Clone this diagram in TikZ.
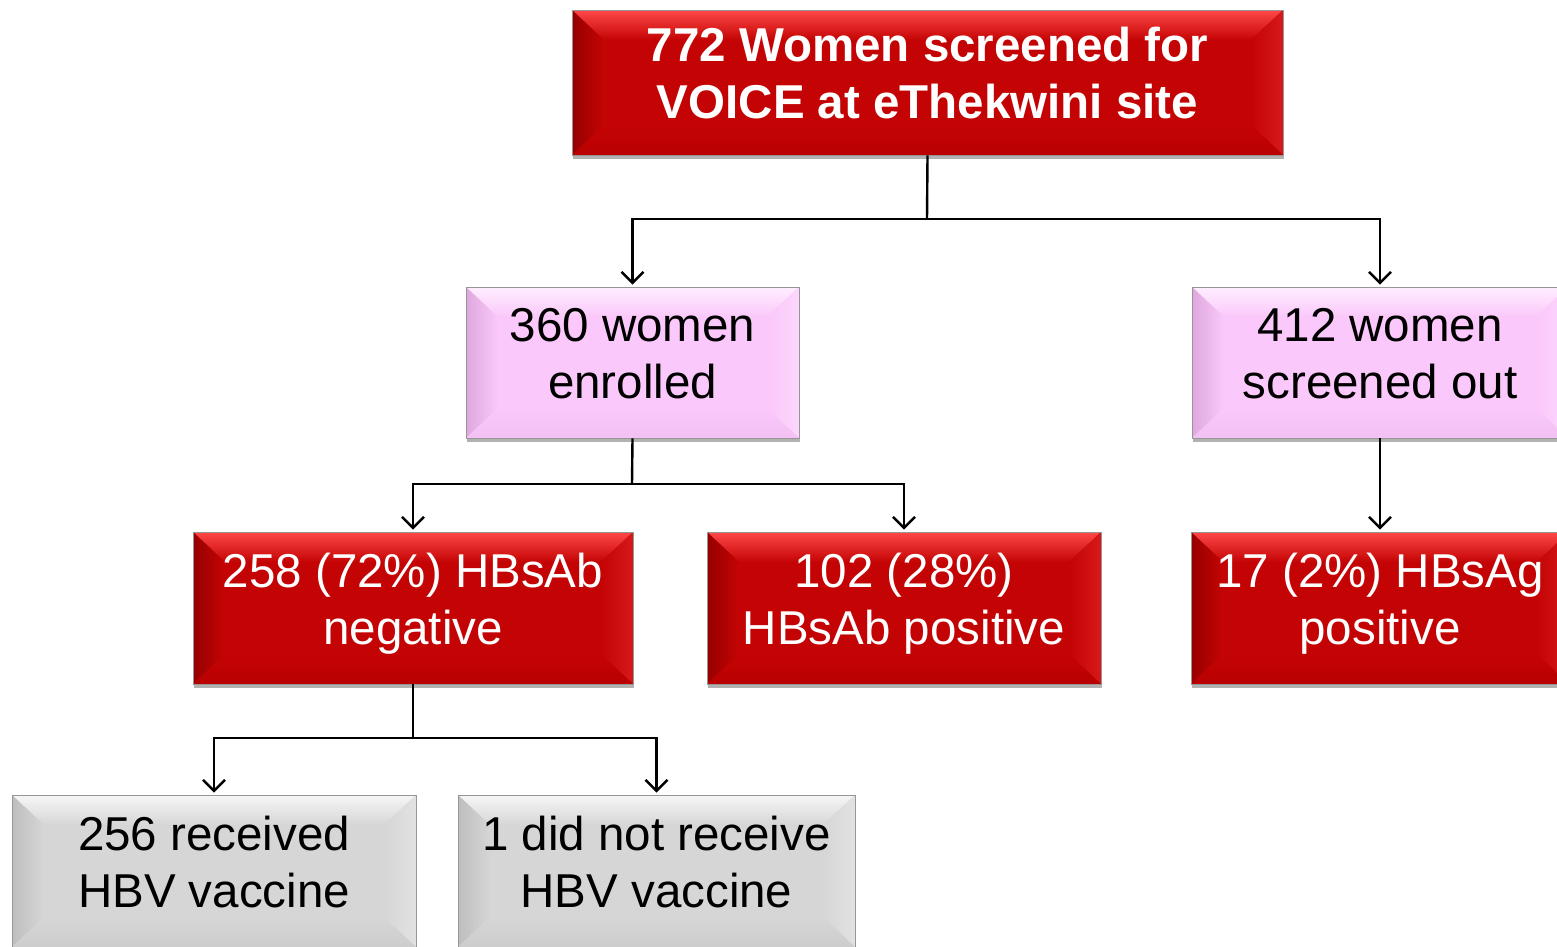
\documentclass[tikz,border=0pt]{standalone}
\usepackage{fontspec}
\setmainfont{Liberation Sans}
\usetikzlibrary{arrows.meta,shadows}

\definecolor{redbase}{RGB}{196,4,4}
\definecolor{redtop}{RGB}{255,72,72}
\definecolor{redleft}{RGB}{150,0,0}
\definecolor{redright}{RGB}{215,25,25}
\definecolor{redbot}{RGB}{185,0,0}
\definecolor{pinkbase}{RGB}{250,200,250}
\definecolor{pinktop}{RGB}{255,238,255}
\definecolor{pinkleft}{RGB}{222,168,222}
\definecolor{pinkright}{RGB}{252,214,252}
\definecolor{pinkbot}{RGB}{242,192,242}
\definecolor{greybase}{RGB}{214,214,214}
\definecolor{greytop}{RGB}{246,246,246}
\definecolor{greyleft}{RGB}{190,190,190}
\definecolor{greyright}{RGB}{226,226,226}
\definecolor{greybot}{RGB}{205,205,205}
\definecolor{edgegrey}{RGB}{150,150,150}

\newcommand\bevelfill[5]{%
  \fill[#1] (path picture bounding box.south west) rectangle (path picture bounding box.north east);
  \path (path picture bounding box.north west) coordinate (bA)
        (path picture bounding box.north east) coordinate (bB)
        (path picture bounding box.south east) coordinate (bC)
        (path picture bounding box.south west) coordinate (bD);
  \path ([xshift=32pt,yshift=-30pt]bA) coordinate (iA)
        ([xshift=-32pt,yshift=-30pt]bB) coordinate (iB)
        ([xshift=-32pt,yshift=30pt]bC) coordinate (iC)
        ([xshift=32pt,yshift=30pt]bD) coordinate (iD);
  \shade[top color=#2,bottom color=#1] (bA)--(bB)--(iB)--(iA)--cycle;
  \shade[left color=#3,right color=#1] (bA)--(iA)--(iD)--(bD)--cycle;
  \shade[left color=#1,right color=#4] (bB)--(bC)--(iC)--(iB)--cycle;
  \shade[top color=#1,bottom color=#5] (bD)--(iD)--(iC)--(bC)--cycle;
}

\newcommand\twolines[2]{\raisebox{0pt}[\height][\dimexpr\depth+7pt\relax]{\begin{tabular}{@{}c@{}}#1\\#2\end{tabular}}}

\tikzset{
  bevbox/.style={rectangle, inner sep=0pt, draw=edgegrey, line width=0.8pt,
    font=\fontsize{47.5}{57}\selectfont,
    drop shadow={shadow xshift=1pt, shadow yshift=-4pt, opacity=0.3, fill=black}},
  redbox/.style={bevbox, text=white, path picture={\bevelfill{redbase}{redtop}{redleft}{redright}{redbot}}},
  pinkbox/.style={bevbox, text=black, path picture={\bevelfill{pinkbase}{pinktop}{pinkleft}{pinkright}{pinkbot}}},
  greybox/.style={bevbox, text=black, path picture={\bevelfill{greybase}{greytop}{greyleft}{greyright}{greybot}}},
  conn/.style={line width=2.4pt, black},
  arr/.style={conn, -{Straight Barb[length=11pt,width=22pt,line width=2.4pt]}, shorten >=2pt},
}

\begin{document}
\begin{tikzpicture}[x=1pt,y=-1pt]
\clip (0,0) rectangle (1557,946);
\useasboundingbox (0,0) rectangle (1557,946);

\node[redbox, minimum width=711pt, minimum height=145pt, font=\fontsize{47.5}{57}\selectfont\bfseries]
  (top) at (927.5,82.5) {\twolines{772 Women screened for}{VOICE at eThekwini site}};

\node[pinkbox, minimum width=333pt, minimum height=151pt] (p1) at (632.5,362.5) {\twolines{360 women}{enrolled}};
\node[pinkbox, minimum width=376pt, minimum height=151pt] (p2) at (1380,362.5) {\twolines{412 women}{screened out}};

\node[redbox, minimum width=440pt, minimum height=152pt] (r1) at (413,608) {\twolines{258 (72\%) HBsAb}{negative}};
\node[redbox, minimum width=394pt, minimum height=152pt] (r2) at (904,608) {\twolines{102 (28\%)}{HBsAb positive}};
\node[redbox, minimum width=378pt, minimum height=152pt] (r3) at (1380,608) {\twolines{17 (2\%) HBsAg}{positive}};

\node[greybox, minimum width=404pt, minimum height=152pt] (g1) at (214,871) {\twolines{256 received}{HBV vaccine}};
\node[greybox, minimum width=397pt, minimum height=152pt] (g2) at (656.5,871) {\twolines{1 did not receive}{HBV vaccine}};

\coordinate (j1) at (927,219);
\coordinate (j2) at (632,484);
\coordinate (j3) at (413,738);

\draw[conn] (top.south) -- (j1);
\draw[arr] (j1) -| (p1.north);
\draw[arr] (j1) -| (p2.north);

\draw[conn] (p1.south) -- (j2);
\draw[arr] (j2) -| (r1.north);
\draw[arr] (j2) -| (r2.north);

\draw[arr] (p2.south) -- (r3.north);

\draw[conn] (r1.south) -- (j3);
\draw[arr] (j3) -| (g1.north);
\draw[arr] (j3) -| (g2.north);
\end{tikzpicture}
\end{document}
